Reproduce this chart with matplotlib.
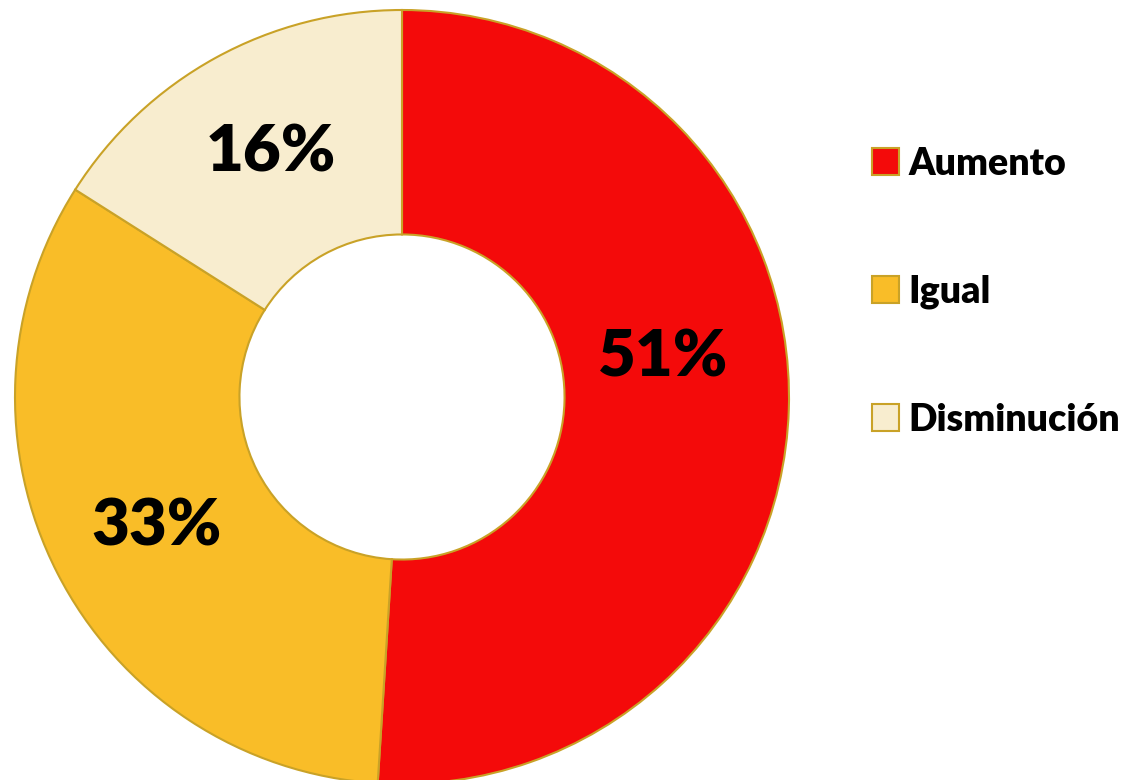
import matplotlib.pyplot as plt

categories = ["Aumento", "Igual", "Disminución"]
shares = [51, 33, 16]
labels = ["51%", "33%", "16%"]
colors = ["#F40A0A", "#F9BD28", "#F8EDCF"]
edge = "#C9A227"

plt.rcParams['font.family'] = ['Lato', 'DejaVu Sans']

fig = plt.figure(figsize=(11.29, 7.8), dpi=100)
ax = fig.add_axes([15 / 1129, -4 / 780, 774 / 1129, 774 / 780])

wedges, _ = ax.pie(shares, colors=colors, startangle=90, counterclock=False,
                   radius=1.0, wedgeprops=dict(width=0.58, edgecolor=edge, linewidth=1.5))
ax.set_xlim(-1, 1)
ax.set_ylim(-1, 1)
ax.set_aspect("equal")
ax.axis("off")

# label positions (fraction of radius, centre of ring)
pos = [(0.675, 0.10), (-0.635, -0.335), (-0.34, 0.63)]
for (x, y), t in zip(pos, labels):
    ax.text(x, y, t, ha="center", va="center", fontsize=47, fontweight="heavy", color="black")

leg = fig.legend(wedges, categories, loc="upper left", bbox_to_anchor=(853 / 1129, 1 - 128 / 780),
                 frameon=False, prop=dict(size=27, weight="heavy"), handlelength=0.72,
                 handleheight=0.72, handletextpad=0.25, labelspacing=2.5, borderpad=0)

fig.savefig("out.png", dpi=100)
